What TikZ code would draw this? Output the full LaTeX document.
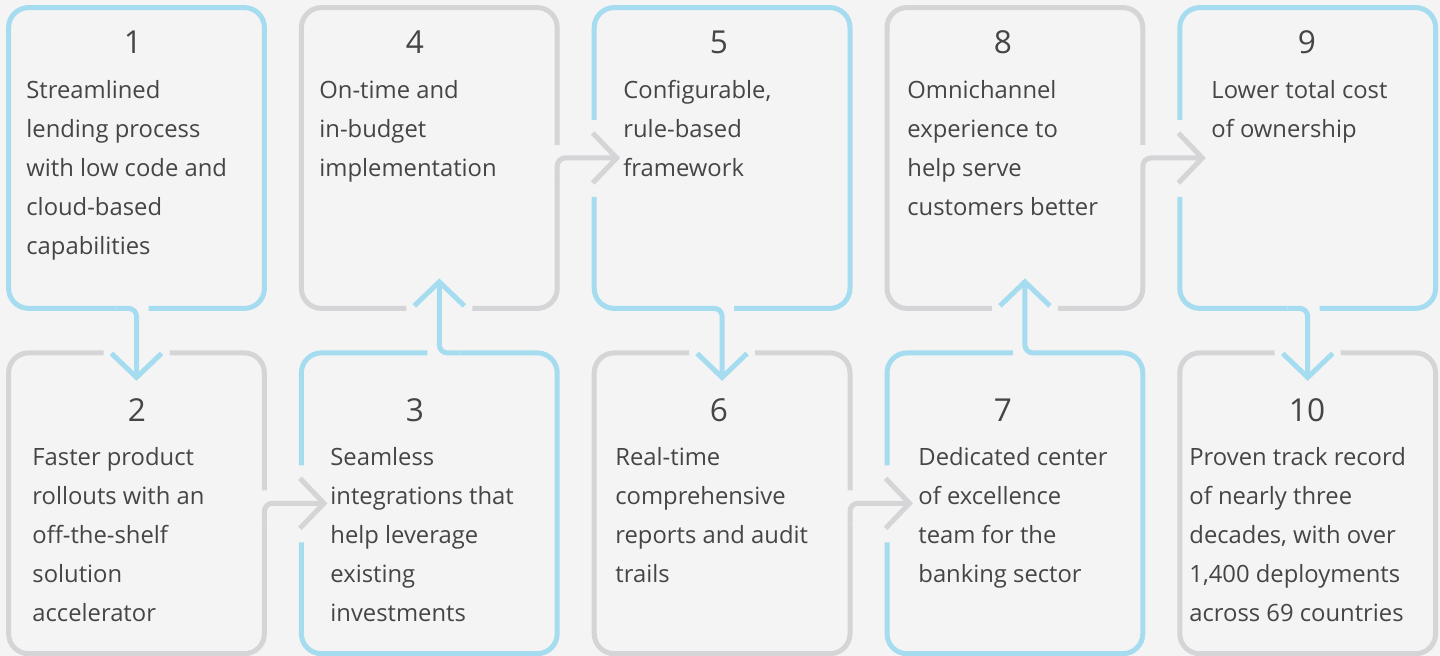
\documentclass[tikz,border=0pt]{standalone}
\usepackage{fontspec}
\setmainfont{Open Sans}
\usepackage{xcolor}
\definecolor{flowblue}{HTML}{A6DCEF}
\definecolor{flowgray}{HTML}{D5D5D7}
\definecolor{flowbg}{HTML}{F4F4F4}
\definecolor{flowtext}{HTML}{454545}
\usetikzlibrary{arrows.meta, positioning, calc}

\begin{document}
\begin{tikzpicture}[
    x=0.5pt, y=-0.5pt,
    area/.style={rectangle, draw=none, minimum width=127.5pt, minimum height=150pt, inner sep=0pt},
    edge/.style={line width=2.5pt, rounded corners=10pt},
    link/.style={line width=2.5pt, rounded corners=4pt, -{Straight Barb[length=12pt, width=25pt, line width=2.5pt]}},
    num/.style={font=\fontsize{15.8}{18}\selectfont, text=flowtext, anchor=base},
    desc/.style={font=\fontsize{11.9}{19.5}\selectfont, text=flowtext, align=left, anchor=base west, inner sep=0pt}
]
\useasboundingbox (0,0) rectangle (1440,656);
\fill[flowbg] (0,0) rectangle (1440,656);

% Box areas
\node[area] (b1) at (136.5,158) {};
\node[area, right=18.5pt of b1] (b4) {};
\node[area, right=18.5pt of b4] (b5) {};
\node[area, right=18.5pt of b5] (b8) {};
\node[area, right=18.5pt of b8] (b9) {};
\node[area, below=22.25pt of b1] (b2) {};
\node[area, below=22.25pt of b4] (b3) {};
\node[area, below=22.25pt of b5] (b6) {};
\node[area, below=22.25pt of b8] (b7) {};
\node[area, below=22.25pt of b9] (b10) {};

% Arrow ends
\coordinate (t12) at ($(b2.north)+(0,28)$);
\coordinate (t23) at ($(b3.west)+(26,0)$);
\coordinate (t34) at ($(b4.south)+(10,-30)$);
\coordinate (t45) at ($(b5.west)+(26,0)$);
\coordinate (t56) at ($(b6.north)+(0,28)$);
\coordinate (t67) at ($(b7.west)+(26,0)$);
\coordinate (t78) at ($(b8.south)+(10,-30)$);
\coordinate (t89) at ($(b9.west)+(26,0)$);
\coordinate (t910) at ($(b10.north)+(0,28)$);

% 1: blue, down to 2
\draw[edge, flowblue] ($(b1.south)+(12,0)$) -- (b1.south east) -- (b1.north east) -- (b1.north west) -- (b1.south west) -- ($(b1.south)+(-20,0)$);
\draw[link, flowblue] ($(b1.south)+(-20,0)$) -- (b1.south) -- (t12);

% 2: gray, right to 3
\draw[edge, flowgray] ($(b2.north)+(33,0)$) -- (b2.north east) -- ($(b2.east)+(0,-13)$);
\draw[edge, flowgray] ($(b2.north)+(-33,0)$) -- (b2.north west) -- (b2.south west) -- (b2.south east) -- ($(b2.east)+(0,20)$);
\draw[link, flowgray] ($(b2.east)+(0,20)$) -- (b2.east) -- (t23);

% 3: blue, up to 4
\draw[edge, flowblue] ($(b3.west)+(0,-38)$) -- (b3.north west) -- ($(b3.north)+(-2,0)$);
\draw[edge, flowblue] ($(b3.west)+(0,39)$) -- (b3.south west) -- (b3.south east) -- (b3.north east) -- ($(b3.north)+(30,0)$);
\draw[link, flowblue] ($(b3.north)+(30,0)$) -- ($(b3.north)+(10,0)$) -- (t34);

% 4: gray, right to 5
\draw[edge, flowgray] ($(b4.south)+(-23,0)$) -- (b4.south west) -- (b4.north west) -- (b4.north east) -- ($(b4.east)+(0,-13)$);
\draw[edge, flowgray] ($(b4.south)+(43,0)$) -- (b4.south east) -- ($(b4.east)+(0,20)$);
\draw[link, flowgray] ($(b4.east)+(0,20)$) -- (b4.east) -- (t45);

% 5: blue, down to 6
\draw[edge, flowblue] ($(b5.west)+(0,-38)$) -- (b5.north west) -- (b5.north east) -- (b5.south east) -- ($(b5.south)+(12,0)$);
\draw[edge, flowblue] ($(b5.west)+(0,39)$) -- (b5.south west) -- ($(b5.south)+(-20,0)$);
\draw[link, flowblue] ($(b5.south)+(-20,0)$) -- (b5.south) -- (t56);

% 6: gray, right to 7
\draw[edge, flowgray] ($(b6.north)+(33,0)$) -- (b6.north east) -- ($(b6.east)+(0,-13)$);
\draw[edge, flowgray] ($(b6.north)+(-33,0)$) -- (b6.north west) -- (b6.south west) -- (b6.south east) -- ($(b6.east)+(0,20)$);
\draw[link, flowgray] ($(b6.east)+(0,20)$) -- (b6.east) -- (t67);

% 7: blue, up to 8
\draw[edge, flowblue] ($(b7.west)+(0,-38)$) -- (b7.north west) -- ($(b7.north)+(-2,0)$);
\draw[edge, flowblue] ($(b7.west)+(0,39)$) -- (b7.south west) -- (b7.south east) -- (b7.north east) -- ($(b7.north)+(30,0)$);
\draw[link, flowblue] ($(b7.north)+(30,0)$) -- ($(b7.north)+(10,0)$) -- (t78);

% 8: gray, right to 9
\draw[edge, flowgray] ($(b8.south)+(-23,0)$) -- (b8.south west) -- (b8.north west) -- (b8.north east) -- ($(b8.east)+(0,-13)$);
\draw[edge, flowgray] ($(b8.south)+(43,0)$) -- (b8.south east) -- ($(b8.east)+(0,20)$);
\draw[link, flowgray] ($(b8.east)+(0,20)$) -- (b8.east) -- (t89);

% 9: blue, down to 10
\draw[edge, flowblue] ($(b9.west)+(0,-38)$) -- (b9.north west) -- (b9.north east) -- (b9.south east) -- ($(b9.south)+(12,0)$);
\draw[edge, flowblue] ($(b9.west)+(0,39)$) -- (b9.south west) -- ($(b9.south)+(-20,0)$);
\draw[link, flowblue] ($(b9.south)+(-20,0)$) -- (b9.south) -- (t910);

% 10: gray
\draw[edge, flowgray] ($(b10.north)+(33,0)$) -- (b10.north east) -- (b10.south east) -- (b10.south west) -- (b10.north west) -- ($(b10.north)+(-33,0)$);

% Numbers
\node[num] (n1) at (133,54) {1};
\node[num] (n4) at (415,54) {4};
\node[num] (n5) at (719,54) {5};
\node[num] (n8) at (1003,54) {8};
\node[num] (n9) at (1307,54) {9};
\node[num] (n2) at (137,422) {2};
\node[num] (n3) at (415,422) {3};
\node[num] (n6) at (719,422) {6};
\node[num] (n7) at (1003,422) {7};
\node[num] (n10) at (1307,422) {10};

% Texts (anchored at the baseline of the last line)
\node[desc] (d1) at (26,255) {Streamlined\\lending process\\with low code and\\cloud-based\\capabilities};
\node[desc] (d4) at (319,177) {On-time and\\in-budget\\implementation};
\node[desc] (d5) at (623,177) {Configurable,\\rule-based\\framework};
\node[desc] (d8) at (907,216) {Omnichannel\\experience to\\help serve\\customers better};
\node[desc] (d9) at (1211,138) {Lower total cost\\of ownership};
\node[desc] (d2) at (32,622) {Faster product\\rollouts with an\\off-the-shelf\\solution\\accelerator};
\node[desc] (d3) at (330,622) {Seamless\\integrations that\\help leverage\\existing\\investments};
\node[desc] (d6) at (615,583) {Real-time\\comprehensive\\reports and audit\\trails};
\node[desc] (d7) at (918,583) {Dedicated center\\of excellence\\team for the\\banking sector};
\node[desc] (d10) at (1189,622) {Proven track record\\of nearly three\\decades, with over\\1,400 deployments\\across 69 countries};

\end{tikzpicture}
\end{document}
